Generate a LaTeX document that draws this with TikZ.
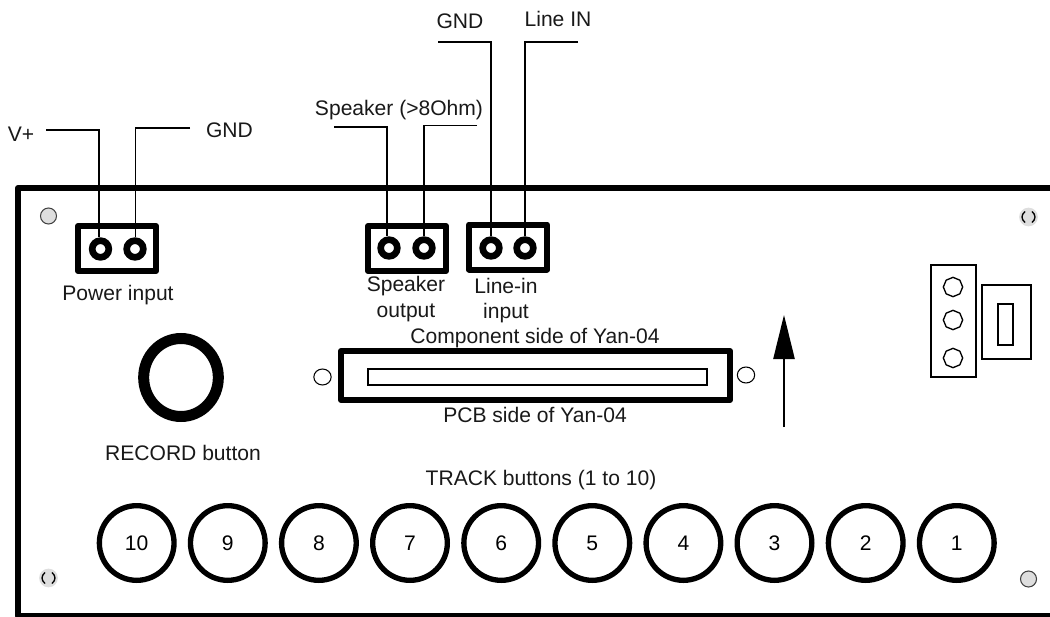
\documentclass[tikz,border=0pt]{standalone}
\usepackage{fontspec}
\setmainfont{Liberation Sans}
\usetikzlibrary{shapes.geometric,arrows.meta}
\tikzset{
  px/.style={x=0.75pt,y=-0.75pt},
  lbl/.style={inner sep=0pt,font=\fontsize{15.8pt}{18pt}\selectfont,align=center,text=black!90},
  heavy/.style={draw=black,line width=4.5pt,line join=round},
  thin box/.style={draw=black,line width=1.1pt},
  wire/.style={draw=black,line width=1pt},
  terminal/.style={circle,draw=black,line width=5pt,fill=white,minimum size=12.5pt,inner sep=0pt},
  hole/.style={ellipse,draw=black,line width=0.8pt,fill=white,inner sep=0pt,minimum width=13pt,minimum height=12pt},
  corner/.style={circle,draw=black!75,fill=black!13,line width=.8pt,inner sep=0pt,minimum size=12pt},
  corner narrow/.style={circle,fill=black!13,inner sep=0pt,minimum size=14pt},
  track/.style={circle,draw=black,line width=4pt,fill=white,minimum size=56pt,inner sep=0pt,font=\fontsize{15.8pt}{18pt}\selectfont},
  pin/.style={regular polygon,regular polygon sides=8,shape border rotate=22.5,draw=black,line width=1pt,fill=white,inner sep=0pt,minimum size=14.5pt},
}
\begin{document}
\begin{tikzpicture}[px]
\useasboundingbox (0,0) rectangle (1050,617);
\fill[white] (0,0) rectangle (1050,617);
% panel
\draw[heavy] (1060,188) -- (18,188) -- (18,615.5) -- (1060,615.5);
% corner holes
\node[corner] (ctl) at (48.5,216) {};
\node[corner narrow] (ctr) at (1028.5,217) {};
\draw[line width=1pt] (1025,211.5) .. controls (1021,215) and (1021,219) .. (1025,222.5) (1032,211.5) .. controls (1036,215) and (1036,219) .. (1032,222.5);
\node[corner narrow] (cbl) at (48.5,578) {};
\draw[line width=1pt] (45,572.5) .. controls (41,576) and (41,580) .. (45,583.5) (52,572.5) .. controls (56,576) and (56,580) .. (52,583.5);
\node[corner] (cbr) at (1028.5,579) {};
% connector boxes
\node[heavy,minimum width=78pt*0.75,minimum height=45pt*0.75,inner sep=0pt] (pbox) at (117,248.5) {};
\node[heavy,minimum width=78pt*0.75,minimum height=45pt*0.75,inner sep=0pt] (sbox) at (407,248.5) {};
\node[heavy,minimum width=78pt*0.75,minimum height=45pt*0.75,inner sep=0pt] (lbox) at (508,247) {};
\node[terminal] (p1) at (100.5,249) {};
\node[terminal] (p2) at (135,249) {};
\node[terminal] (s1) at (389,248) {};
\node[terminal] (s2) at (424,248) {};
\node[terminal] (l1) at (491,248) {};
\node[terminal] (l2) at (525,248) {};
% wire ends
\coordinate (wp1) at (46,130);
\coordinate (wp2) at (190,128);
\coordinate (ws1) at (334,127);
\coordinate (ws2) at (477,125.5);
\coordinate (wl1) at (438,42);
\coordinate (wl2) at (578,42);
\draw[wire] (wp1) -| ([xshift=-1.1pt]p1.north);
\draw[wire] (wp2) -| ([xshift=.5pt]p2.north);
\draw[wire] (ws1) -| ([xshift=-1.5pt]s1.north);
\draw[wire] (ws2) -| (s2.north);
\draw[wire] (wl1) -| (l1.north);
\draw[wire] (wl2) -| (l2.north);
% labels
\node[lbl] (tv) at (21,134) {V+};
\node[lbl] (tg) at (229.5,130) {GND};
\node[lbl] (tspk) at (399,110) {Speaker (>8Ohm)};
\node[lbl] (tg2) at (460,21) {GND};
\node[lbl] (tin) at (558,19) {Line IN};
\node[lbl] (tpow) at (118,295) {Power input};
\node[lbl] (tso) at (406,286) {Speaker};
\node[lbl] (tso2) at (406,313) {output};
\node[lbl] (tli) at (506,286) {Line-in};
\node[lbl] (tli2) at (506,313) {input};
\node[lbl] (tcomp) at (535,338) {Component side of Yan-04};
\node[lbl] (tpcb) at (535,415) {PCB side of Yan-04};
\node[lbl] (trec) at (183,453) {RECORD button};
\node[lbl] (ttrk) at (541,480) {TRACK buttons (1 to 10)};
% record button
\node[ellipse,draw=black,line width=8.25pt,fill=white,minimum width=56pt,minimum height=58.5pt,inner sep=0pt] (rec) at (181,377.5) {};
% slot connector
\node[heavy,minimum width=389pt*0.75,minimum height=49pt*0.75,inner sep=0pt] (slot) at (535.5,375.5) {};
\node[thin box,minimum width=339pt*0.75,minimum height=16pt*0.75,inner sep=0pt] (slotin) at (537.5,377) {};
\node[hole] (h1) at (322.5,377) {};
\node[hole] (h2) at (746,375) {};
% arrow
\coordinate (atip) at (784,315);
\coordinate (abase) at (784,427);
\draw[wire,-{Triangle[length=33pt,width=16pt]}] (abase) -- (atip);
% right side parts
\node[thin box,minimum width=45pt*0.75,minimum height=112pt*0.75,inner sep=0pt] (strip) at (953.5,321) {};
\node[pin] (q1) at (953,287) {};
\node[pin] (q2) at (953,320) {};
\node[pin] (q3) at (953,358) {};
\node[thin box,minimum width=49pt*0.75,minimum height=74pt*0.75,inner sep=0pt] (sw) at (1006.5,322) {};
\node[thin box,minimum width=15pt*0.75,minimum height=41pt*0.75,inner sep=0pt] (swin) at (1005.5,324.5) {};
% track buttons
\foreach \n/\x in {10/136.7,9/227.8,8/318.9,7/410,6/501.2,5/592.3,4/683.4,3/774.5,2/865.7,1/956.8}
  \node[track] (t\n) at (\x,543) {\n};
\end{tikzpicture}
\end{document}
